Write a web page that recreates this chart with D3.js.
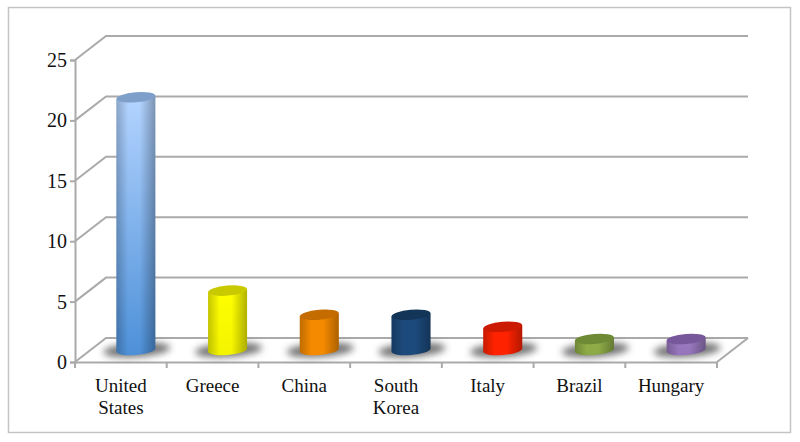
<!DOCTYPE html>
<html>
<head>
<meta charset="utf-8">
<script src="https://cdn.jsdelivr.net/npm/d3@7"></script>
<style>
  html, body { margin: 0; padding: 0; background: #fff; }
  text { font-family: "Liberation Serif", serif; fill: #111; }
</style>
</head>
<body>
<svg id="chart"></svg>
<script>
const width = 800, height = 442;

const countries = ["United States", "Greece", "China", "South Korea", "Italy", "Brazil", "Hungary"];
const values = [21, 5, 3, 3, 2, 1, 1];
const yTicks = [0, 5, 10, 15, 20, 25];

// [top of bar, bottom of bar, lid]
const barTop = ["#b4d4ff", "#ffff00", "#f58a00", "#1c4a7c", "#ff2200", "#93b04c", "#9b7cc0"];
const barBottom = ["#4d90d8", "#f4f400", "#f58a00", "#1c4a7c", "#ff2200", "#8aa845", "#9473ba"];
const barLid = ["#7f9fcb", "#c9c900", "#c46c00", "#123558", "#cc1a00", "#6f8a34", "#77599b"];

const gridColor = "#aaaaaa";
const depthX = 31, depthY = 24;   // how far the back wall sits from the front edge

const svg = d3.select("#chart").attr("width", width).attr("height", height);
const defs = svg.append("defs");

// picture frame
svg.append("rect")
  .attr("x", 8.5).attr("y", 7.5)
  .attr("width", 782).attr("height", 425)
  .attr("fill", "#fff").attr("stroke", "#c4c4c4").attr("stroke-width", 1.5);

const x = d3.scaleBand().domain(countries).range([75, 717]);
const y = d3.scaleLinear().domain([0, 25]).range([362, 60]);

// cylinder side shading, goes over the base colour
const shade = defs.append("linearGradient").attr("id", "shade");
[[0, 0.22], [0.3, 0], [0.6, 0], [1, 0.3]].forEach(s => {
  shade.append("stop").attr("offset", s[0]).attr("stop-color", "#000").attr("stop-opacity", s[1]);
});

countries.forEach((c, i) => {
  const g = defs.append("linearGradient")
    .attr("id", "bar" + i).attr("x1", 0).attr("x2", 0).attr("y1", 0).attr("y2", 1);
  g.append("stop").attr("offset", 0).attr("stop-color", barTop[i]);
  g.append("stop").attr("offset", 1).attr("stop-color", barBottom[i]);
});

defs.append("filter").attr("id", "blur")
  .attr("x", "-30%").attr("y", "-80%").attr("width", "160%").attr("height", "260%")
  .append("feGaussianBlur").attr("stdDeviation", 3.5);

const grid = svg.append("g")
  .attr("fill", "none")
  .attr("stroke", gridColor)
  .attr("stroke-width", 2);

// back wall lines and their slanted ends
yTicks.forEach(t => {
  grid.append("path")
    .attr("d", d3.line()([
      [x.range()[0], y(t)],
      [x.range()[0] + depthX, y(t) - depthY],
      [x.range()[1] + depthX, y(t) - depthY]
    ]));
});

// floor front right corner
grid.append("path")
  .attr("d", d3.line()([
    [x.range()[1], y(0)],
    [x.range()[1] + depthX, y(0) - depthY]
  ]));

// axes
const axisY = svg.append("g")
  .attr("transform", `translate(${x.range()[0]},0)`)
  .call(d3.axisLeft(y).tickValues(yTicks).tickSize(5).tickPadding(3));
axisY.selectAll("text").attr("font-size", 20);

const axisX = svg.append("g")
  .attr("transform", `translate(0,${y(0)})`)
  .call(d3.axisBottom(x).tickValues([]).tickSize(0));

// band edge ticks, the d3 axis puts its own ticks at the centres
const edges = countries.map(c => x(c)).concat(x.range()[1]);
axisX.selectAll(".edge").data(edges).enter().append("line")
  .attr("class", "edge")
  .attr("x1", d => d).attr("x2", d => d)
  .attr("y1", 0).attr("y2", 6);

svg.selectAll(".domain, .tick line, .edge")
  .attr("stroke", gridColor).attr("stroke-width", 2);

// category labels
const labels = svg.append("g").attr("font-size", 19).attr("text-anchor", "middle");
countries.forEach(c => {
  const t = labels.append("text").attr("y", 392);
  c.split(" ").forEach((w, j) => {
    t.append("tspan")
      .attr("x", x(c) + x.bandwidth() / 2)
      .attr("dy", j ? 22 : 0)
      .text(w);
  });
});

// bars
const barW = 39, rx = barW / 2, ry = 5, tilt = 1.6;
const bars = svg.append("g");
countries.forEach((c, i) => {
  const cx = x(c) + x.bandwidth() / 2 + 15;
  const base = y(0) - 12;
  const top = y(values[i]) - 11;
  const g = bars.append("g");

  g.append("ellipse")
    .attr("cx", cx + 1).attr("cy", base)
    .attr("rx", rx + 14).attr("ry", ry + 2)
    .attr("transform", `rotate(-4 ${cx} ${base})`)
    .attr("fill", "#5c5c5c").attr("opacity", 0.85)
    .attr("filter", "url(#blur)");

  // side of the cylinder, both ends lean up to the right like the lid
  const body = `M${cx - rx},${top + tilt} L${cx - rx},${base + tilt} ` +
    `A${rx},${ry} -5 0 0 ${cx + rx},${base - tilt} L${cx + rx},${top - tilt} Z`;
  g.append("path").attr("d", body).attr("fill", `url(#bar${i})`);
  g.append("path").attr("d", body).attr("fill", "url(#shade)");

  g.append("ellipse")
    .attr("cx", cx).attr("cy", top)
    .attr("rx", rx).attr("ry", ry)
    .attr("transform", `rotate(-5 ${cx} ${top})`)
    .attr("fill", barLid[i]);
});
</script>
</body>
</html>
